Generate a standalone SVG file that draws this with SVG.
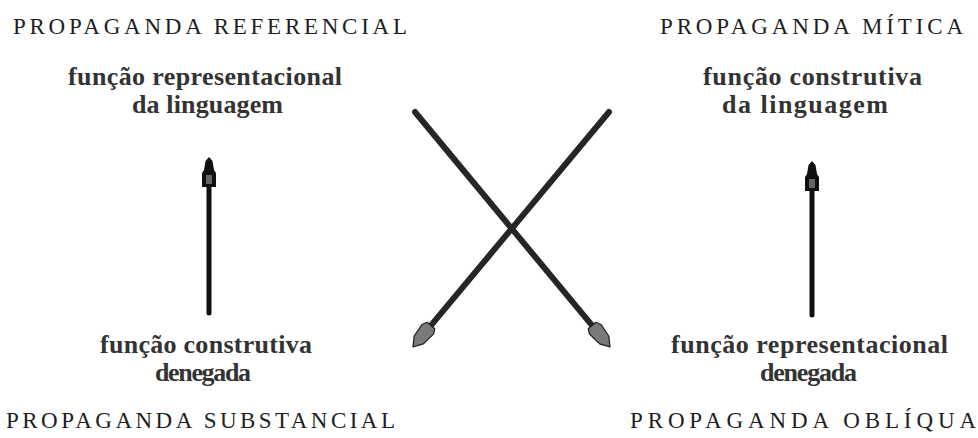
<svg xmlns="http://www.w3.org/2000/svg" width="978" height="438" viewBox="0 0 978 438">
<style>
.title{font-family:"Liberation Serif","Times New Roman","DejaVu Serif",serif;font-size:23px;fill:#1e1e1e;}
.label{font-family:"Liberation Serif","Times New Roman","DejaVu Serif",serif;font-size:26px;font-weight:bold;fill:#333;}
.vshaft{stroke:#111;stroke-width:5;fill:none;stroke-linecap:round;}
.dshaft{stroke:#262626;stroke-width:6;fill:none;stroke-linecap:round;}
</style>
<defs>
<marker id="vhead" markerUnits="userSpaceOnUse" orient="auto" refX="-23" refY="0" markerWidth="40" markerHeight="20" overflow="visible">
<path d="M0,0 L-4,-3.5 L-13,-5 L-16,-7 L-30,-7 L-30,7 L-16,7 L-13,5 L-4,3.5 Z" fill="#111"/>
<path d="M-27,-3 L-18,-3 L-18,3 L-27,3 Z" fill="#666"/>
</marker>
<marker id="dhead" markerUnits="userSpaceOnUse" orient="auto" refX="-20" refY="0" markerWidth="40" markerHeight="20" overflow="visible">
<path d="M0,0 L-9,-6 L-23,-7.5 L-28,-5 L-28,5 L-23,7.5 L-9,6 Z" fill="#7a7a7a" stroke="#222" stroke-width="1.3" stroke-linejoin="round"/>
</marker>
</defs>

<g id="referencial">
<text class="title" x="13" y="34" textLength="394">PROPAGANDA REFERENCIAL</text>
<text class="label" x="68" y="85" textLength="274">função representacional</text>
<text class="label" x="132" y="113" textLength="151">da linguagem</text>
</g>

<g id="mitica">
<text class="title" x="660" y="34" textLength="303">PROPAGANDA MÍTICA</text>
<text class="label" x="703" y="85" textLength="219">função construtiva</text>
<text class="label" x="722" y="113" textLength="166">da linguagem</text>
</g>

<g id="substancial">
<text class="label" x="100" y="353" textLength="212">função construtiva</text>
<text class="label" x="155" y="381" textLength="96">denegada</text>
<text class="title" x="6" y="428" textLength="389">PROPAGANDA SUBSTANCIAL</text>
</g>

<g id="obliqua">
<text class="label" x="671" y="353" textLength="277">função representacional</text>
<text class="label" x="760" y="381" textLength="97">denegada</text>
<text class="title" x="630" y="428" textLength="346">PROPAGANDA OBLÍQUA</text>
</g>

<g id="connectors">
<line class="vshaft" x1="209" y1="313" x2="209" y2="180" marker-end="url(#vhead)"/>
<line class="vshaft" x1="812" y1="315" x2="812" y2="184" marker-end="url(#vhead)"/>
<line class="dshaft" x1="415" y1="112" x2="597.2" y2="331.6" marker-end="url(#dhead)"/>
<line class="dshaft" x1="609" y1="112" x2="425.8" y2="331.6" marker-end="url(#dhead)"/>
</g>
</svg>
